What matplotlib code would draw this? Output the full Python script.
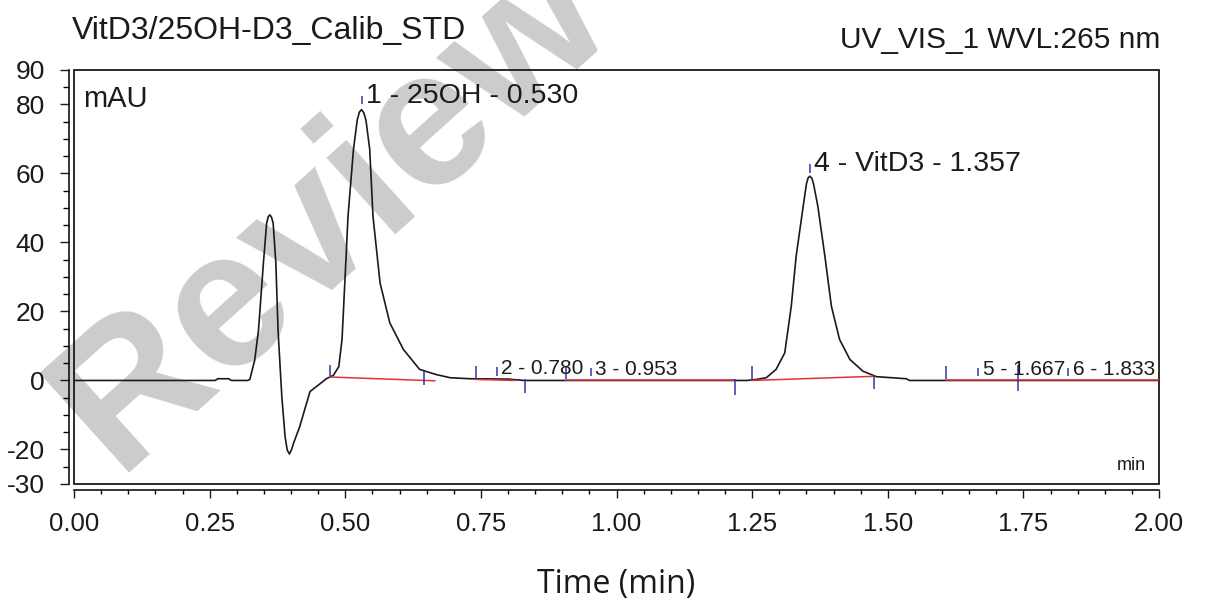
import numpy as np
import matplotlib.pyplot as plt
from matplotlib.patches import Rectangle
from matplotlib.ticker import MultipleLocator

plt.rcParams['font.family'] = ['Liberation Sans', 'DejaVu Sans']
plt.rcParams['axes.unicode_minus'] = False

# chromatogram trace (min / mAU)
time = [0.00, 0.26, 0.265, 0.285, 0.29, 0.32, 0.324, 0.333, 0.340, 0.349, 0.355,
        0.358, 0.361, 0.364, 0.367, 0.372, 0.376, 0.383, 0.389, 0.393, 0.397,
        0.401, 0.405, 0.416, 0.425, 0.435, 0.453, 0.465, 0.478, 0.488, 0.494,
        0.499, 0.505, 0.515, 0.522, 0.526, 0.530, 0.534, 0.538, 0.545, 0.551,
        0.564, 0.582, 0.607, 0.637, 0.668, 0.693, 0.730, 0.800, 0.822, 0.830,
        1.240, 1.258, 1.276, 1.294, 1.310, 1.322, 1.331, 1.344, 1.350, 1.353,
        1.356, 1.360, 1.363, 1.371, 1.384, 1.396, 1.411, 1.430, 1.454, 1.479,
        1.534, 1.540, 2.00]
signal = [0.0, 0.0, 0.5, 0.5, 0.0, 0.0, 0.3, 5.9, 14.6, 34.0, 45.6,
          47.5, 48.0, 47.3, 45.6, 34.0, 14.6, -4.7, -16.3, -20.2, -21.3,
          -20.0, -18.0, -13.4, -8.5, -3.2, -1.0, 0.5, 1.5, 4.0, 12.0,
          28.0, 47.6, 66.9, 75.5, 77.8, 78.5, 77.6, 75.5, 67.0, 47.6,
          28.3, 16.7, 9.0, 3.2, 1.7, 0.8, 0.5, 0.4, 0.1, 0.0,
          0.0, 0.3, 0.8, 3.2, 8.0, 21.5, 36.0, 50.5, 57.0, 58.7,
          59.2, 58.6, 57.0, 50.5, 36.0, 21.5, 11.9, 6.1, 2.7, 1.1,
          0.5, 0.0, 0.0]

# peak table
peak_no = [1, 2, 3, 4, 5, 6]
peak_name = ['25OH', '', '', 'VitD3', '', '']
peak_rt = [0.530, 0.780, 0.953, 1.357, 1.667, 1.833]
peak_mark = [80.0, 1.4, 1.2, 60.2, 1.2, 1.2]   # foot of the retention-time marker

# integration baselines
base_t0 = [0.472, 0.740, 0.906, 1.250, 1.608]
base_y0 = [1.0, 0.3, 0.0, 0.0, 0.0]
base_t1 = [0.665, 0.812, 1.218, 1.474, 2.00]
base_y1 = [-0.1, 0.0, 0.0, 1.2, 0.0]

# peak start / end delimiters
delim_t = [0.472, 0.645, 0.740, 0.831, 0.906, 1.218, 1.250, 1.474, 1.608, 1.740]
delim_lo = [1.2, -1.2, 0.3, -3.5, 0.3, -4.1, 0.3, -2.6, 0.3, -3.1]
delim_hi = [4.6, 2.7, 4.1, 0.3, 4.1, 0.3, 4.1, 1.2, 4.1, 4.6]

blue = '#3434a8'
red = '#e03434'
ink = '#1a1a1a'

fig = plt.figure(figsize=(12.06, 6.12), dpi=100)
ax = fig.add_axes([0.0614, 0.2092, 0.8997, 0.6765])
ax.set_facecolor('none')

# watermark
fig.text(0.275, 0.655, 'Review', fontsize=140, fontweight='bold', color='#cccccc',
         rotation=42, ha='center', va='center', zorder=-1)

ax.plot(time, signal, color=ink, lw=1.2, zorder=3)
for t0, y0, t1, y1 in zip(base_t0, base_y0, base_t1, base_y1):
    ax.plot([t0, t1], [y0, y1], color=red, lw=1.1, zorder=4)
ax.vlines(delim_t, delim_lo, delim_hi, color=blue, lw=1.1, zorder=5)

# retention time markers and labels
for n, name, rt, y in zip(peak_no, peak_name, peak_rt, peak_mark):
    ax.vlines(rt, y, y + 2.5, color=blue, lw=1.1, zorder=5)
    if name:
        txt = '%d - %s - %.3f' % (n, name, rt)
        size = 20.5
    else:
        txt = '%d - %.3f' % (n, rt)
        size = 15
    ax.annotate(txt, xy=(rt, y), xytext=(3, 1), textcoords='offset points',
                ha='left', va='baseline', fontsize=size, color=ink, zorder=6)

ax.set_xlim(0, 2)
ax.set_ylim(-30, 90)
ax.set_yticks([-30, -20, 0, 20, 40, 60, 80, 90])
ax.yaxis.set_minor_locator(MultipleLocator(5))
ax.xaxis.set_major_locator(MultipleLocator(0.25))
ax.xaxis.set_minor_locator(MultipleLocator(0.05))
ax.xaxis.set_major_formatter(plt.FormatStrFormatter('%.2f'))

for s in ['top', 'right']:
    ax.spines[s].set_visible(False)
ax.spines['left'].set_position(('outward', 3.6))
ax.spines['bottom'].set_position(('outward', 4.3))
ax.spines['left'].set_linewidth(1.1)
ax.spines['bottom'].set_linewidth(1.1)
ax.add_patch(Rectangle((0, 0), 1, 1, transform=ax.transAxes, fill=False,
                       lw=1.3, edgecolor=ink, clip_on=False, zorder=2))

ax.tick_params(axis='y', which='major', length=6.5, width=1.0, pad=11, labelsize=19, colors=ink)
ax.tick_params(axis='y', which='minor', length=4.3, width=1.0)
ax.tick_params(axis='x', which='major', length=5.8, width=1.0, pad=10, labelsize=18.5, colors=ink)
ax.tick_params(axis='x', which='minor', length=3.0, width=1.0)

ax.text(0.008, 0.93, 'mAU', transform=ax.transAxes, fontsize=21, color=ink, va='center')
ax.text(0.988, 0.045, 'min', transform=ax.transAxes, fontsize=13, color=ink,
        ha='right', va='center')

fig.text(72 / 1206, 1 - 31 / 612, 'VitD3/25OH-D3_Calib_STD', fontsize=23, color=ink,
         ha='left', va='center')
fig.text(1160 / 1206, 1 - 40 / 612, 'UV_VIS_1 WVL:265 nm', fontsize=21.5, color=ink,
         ha='right', va='center')
fig.text(616 / 1206, 1 - 585 / 612, 'Time (min)', fontsize=23, color=ink,
         family=['Open Sans', 'DejaVu Sans'], ha='center', va='center')

plt.savefig('out.png', dpi=100)
